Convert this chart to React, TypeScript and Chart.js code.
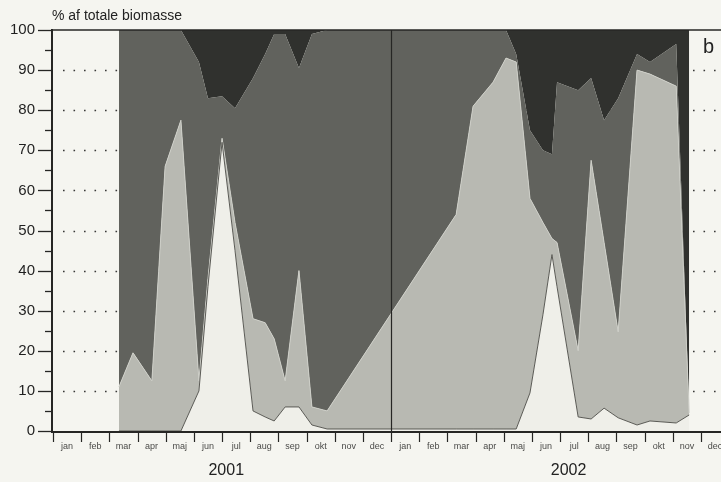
import { useEffect, useRef } from "react";
import { Chart, registerables } from "chart.js";

Chart.register(...registerables);

// Sampling dates, in months counted from 1 January 2001
const sampleMonths = [
  2.34, 2.84, 3.51, 3.98, 4.54, 5.18, 5.5, 6.0, 6.46, 7.1, 7.53, 7.85, 8.24, 8.73, 9.19, 9.73,
  14.31, 14.91, 15.62, 16.08, 16.44, 16.93, 17.39, 17.71, 17.89, 18.64, 19.1, 19.56, 20.06, 20.73, 21.19, 22.12, 22.58,
];

// Share of total biomass (%) per group, bottom to top of the stack
const groupA = [
  0, 0, 0, 0, 0, 10, 36, 72, 45, 5, 3.5, 2.5, 6, 6, 1.5, 0.5,
  0.5, 0.5, 0.5, 0.5, 0.5, 9.5, 29, 44, 36, 3.5, 3, 5.7, 3.3, 1.5, 2.5, 2, 4,
];
const groupB = [
  11, 19.5, 12.5, 66, 77.5, 2.5, 2, 1, 7, 23, 23.5, 20.5, 6.5, 34, 4.5, 4.5,
  53.5, 80.5, 86.5, 92.5, 91.5, 48.5, 23, 4, 11, 16.5, 64.5, 41.3, 21.4, 88.5, 86.5, 84, 0.5,
];
const groupC = [
  89, 80.5, 87.5, 34, 22.5, 79.5, 45, 10.5, 28.5, 60, 67, 76, 86.5, 50.5, 93, 95,
  46, 19, 13, 7, 2, 17, 18, 21, 40, 65, 20.5, 30.5, 58.3, 4, 3, 10.5, 0.5,
];
const groupD = [
  0, 0, 0, 0, 0, 8, 17, 16.5, 19.5, 12, 6, 1, 1, 9.5, 1, 0,
  0, 0, 0, 0, 6, 25, 30, 31, 13, 15, 12, 22.5, 17, 6, 8, 3.5, 95,
];

const monthNames = ["jan", "feb", "mar", "apr", "maj", "jun", "jul", "aug", "sep", "okt", "nov", "dec"];
const years = ["2001", "2002"];
const yTicks = [0, 10, 20, 30, 40, 50, 60, 70, 80, 90, 100];
const axisTitle = "% af totale biomasse";
const panelLabel = "b";

const FONT = "'Liberation Sans', Arial, Helvetica, sans-serif";

const series = (vals: number[]) => sampleMonths.map((m, i) => ({ x: m, y: vals[i] }));

const framePlugin = {
  id: "frame",
  beforeDatasetsDraw(chart: any) {
    const { ctx, chartArea: a, scales } = chart;
    const y = scales.y;
    ctx.save();
    ctx.strokeStyle = "#3a3a38";
    ctx.lineWidth = 1.6;
    ctx.setLineDash([1.6, 8.9]);
    for (const v of yTicks) {
      if (v === 0 || v === 100) continue;
      const py = Math.round(y.getPixelForValue(v)) + 0.5;
      ctx.beginPath();
      ctx.moveTo(a.left + 10, py);
      ctx.lineTo(a.right, py);
      ctx.stroke();
    }
    ctx.restore();
  },
  afterDatasetsDraw(chart: any) {
    const { ctx, chartArea: a, scales } = chart;
    const x = scales.x;
    const y = scales.y;
    ctx.save();
    ctx.strokeStyle = "#262624";

    // year separator
    const sep = Math.round(x.getPixelForValue(12)) + 0.5;
    ctx.lineWidth = 1.2;
    ctx.beginPath();
    ctx.moveTo(sep, a.top);
    ctx.lineTo(sep, a.bottom);
    ctx.stroke();

    // top frame line
    ctx.lineWidth = 1.6;
    ctx.beginPath();
    ctx.moveTo(a.left - 2, a.top);
    ctx.lineTo(a.right, a.top);
    ctx.stroke();

    // axes
    ctx.lineWidth = 2;
    ctx.beginPath();
    ctx.moveTo(a.left - 1, a.top - 1);
    ctx.lineTo(a.left - 1, a.bottom + 1);
    ctx.lineTo(a.right, a.bottom + 1);
    ctx.stroke();

    // y tick marks, major every 10 and minor every 5
    ctx.lineWidth = 1.3;
    for (let v = 0; v <= 100; v += 5) {
      const py = Math.round(y.getPixelForValue(v)) + 0.5;
      const len = v % 10 === 0 ? 14 : 7;
      ctx.beginPath();
      ctx.moveTo(a.left - 1 - len, py);
      ctx.lineTo(a.left - 1, py);
      ctx.stroke();
    }

    // x tick marks at month boundaries
    ctx.lineWidth = 1.2;
    for (let m = 0; m <= 24; m++) {
      const px = Math.round(x.getPixelForValue(m)) + 0.5;
      ctx.beginPath();
      ctx.moveTo(px, a.bottom + 1);
      ctx.lineTo(px, a.bottom + 11);
      ctx.stroke();
    }

    // month labels
    ctx.fillStyle = "#4a4a48";
    ctx.font = `9px ${FONT}`;
    ctx.textAlign = "center";
    ctx.textBaseline = "alphabetic";
    for (let m = 0; m < 24; m++) {
      ctx.fillText(monthNames[m % 12], x.getPixelForValue(m + 0.5), a.bottom + 18);
    }

    // year labels
    ctx.fillStyle = "#222";
    ctx.font = `16px ${FONT}`;
    ctx.fillText(years[0], x.getPixelForValue(6.15), a.bottom + 44);
    ctx.fillText(years[1], x.getPixelForValue(18.3), a.bottom + 44);

    // axis title
    ctx.textAlign = "left";
    ctx.font = `14px ${FONT}`;
    ctx.fillText(axisTitle, a.left - 1, a.top - 10);

    // panel label
    ctx.font = `20px ${FONT}`;
    ctx.fillText(panelLabel, 703, a.top + 23);
    ctx.restore();
  },
};

export default function App() {
  const ref = useRef<HTMLCanvasElement>(null);

  useEffect(() => {
    if (!ref.current) return;
    const common = { pointRadius: 0, tension: 0 };
    const chart = new Chart(ref.current, {
      type: "line",
      data: {
        datasets: [
          { ...common, label: "A", data: series(groupA), fill: "origin", backgroundColor: "#efefe9", borderColor: "#5a5a55", borderWidth: 1 },
          { ...common, label: "B", data: series(groupB), fill: "-1", backgroundColor: "#b8b9b2", borderColor: "#cdcec7", borderWidth: 1 },
          { ...common, label: "C", data: series(groupC), fill: "-1", backgroundColor: "#61625d", borderColor: "#61625d", borderWidth: 0 },
          { ...common, label: "D", data: series(groupD), fill: "-1", backgroundColor: "#30312e", borderColor: "#30312e", borderWidth: 0 },
        ],
      },
      options: {
        responsive: false,
        animation: false,
        events: [],
        layout: { padding: { top: 30, right: 0, bottom: 51, left: 0 } },
        plugins: { legend: { display: false }, tooltip: { enabled: false }, title: { display: false } },
        scales: {
          x: { type: "linear", min: 0, max: 23.71, display: false },
          y: {
            stacked: true,
            min: 0,
            max: 100,
            afterFit: (scale: any) => {
              scale.width = 53;
            },
            grid: { display: false, drawTicks: false },
            border: { display: false },
            ticks: {
              stepSize: 10,
              padding: 18,
              color: "#1f1f1f",
              font: { family: FONT, size: 15 },
            },
          },
        },
      },
      plugins: [framePlugin],
    } as any);
    return () => chart.destroy();
  }, []);

  return (
    <div
      style={{
        position: "fixed",
        left: 0,
        top: 0,
        width: 721,
        height: 482,
        overflow: "hidden",
        background: "#f5f5f0",
      }}
    >
      <canvas ref={ref} width={721} height={482} style={{ display: "block", width: 721, height: 482 }} />
    </div>
  );
}
